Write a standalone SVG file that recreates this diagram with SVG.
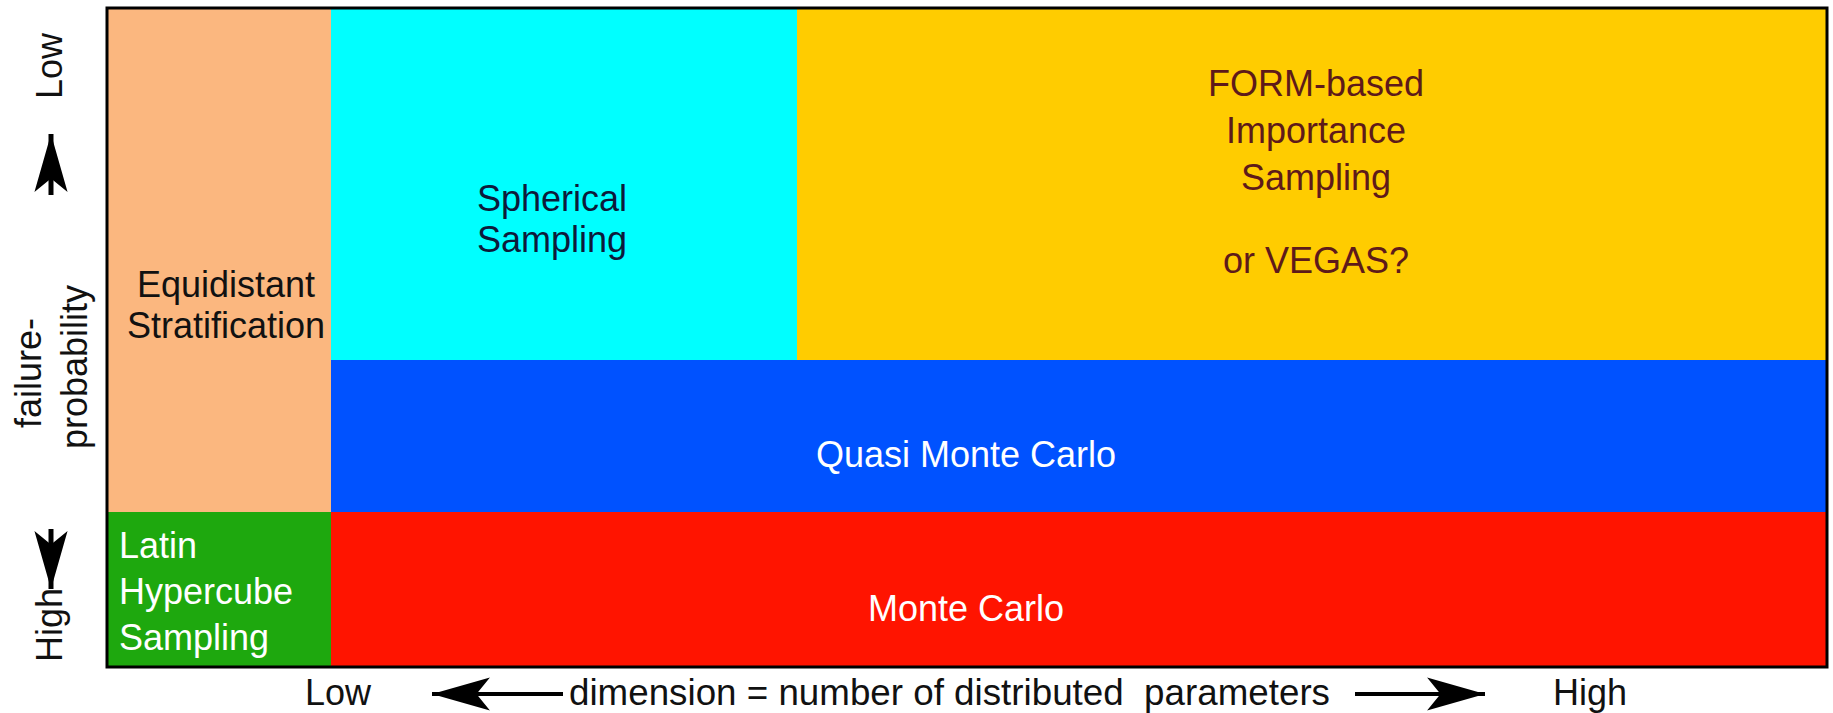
<svg xmlns="http://www.w3.org/2000/svg" width="1833" height="713" viewBox="0 0 1833 713">
  <style>
    text { font-family: "Liberation Sans", Arial, sans-serif; font-size: 36px; }
    .c { text-anchor: middle; }
    .dark { fill: #111111; }
    .white { fill: #ffffff; }
    .arrow { stroke: #000; stroke-width: 4; fill: none; }
    .arrowv { stroke: #000; stroke-width: 5; fill: none; }
  </style>
  <defs>
    <marker id="head" markerUnits="userSpaceOnUse" markerWidth="60" markerHeight="36" viewBox="-56 -17 58 34" refX="0" refY="0" orient="auto">
      <path d="M0,0 L-56,-16 L-43,0 L-56,16 Z" fill="#000"/>
    </marker>
  </defs>
  <rect x="0" y="0" width="1833" height="713" fill="#ffffff"/>

  <g id="equidistant">
    <rect x="107" y="8" width="224" height="504" fill="#FBB77F"/>
    <text class="c dark" x="226" y="297">Equidistant</text>
    <text class="c dark" x="226" y="338">Stratification</text>
  </g>
  <g id="spherical">
    <rect x="331" y="8" width="466" height="352" fill="#00FFFF"/>
    <text class="c" fill="#0d1a3a" x="552" y="211">Spherical</text>
    <text class="c" fill="#0d1a3a" x="552" y="252">Sampling</text>
  </g>
  <g id="form">
    <rect x="797" y="8" width="1030" height="352" fill="#FFCC00"/>
    <text class="c" fill="#5e1a1a" x="1316" y="96">FORM-based</text>
    <text class="c" fill="#5e1a1a" x="1316" y="143">Importance</text>
    <text class="c" fill="#5e1a1a" x="1316" y="190">Sampling</text>
    <text class="c" fill="#5e1a1a" x="1316" y="273">or VEGAS?</text>
  </g>
  <g id="quasi">
    <rect x="331" y="360" width="1496" height="152" fill="#0052FF"/>
    <text class="c white" x="966" y="467">Quasi Monte Carlo</text>
  </g>
  <g id="latin">
    <rect x="107" y="512" width="224" height="155" fill="#1EA80E"/>
    <text class="white" x="119" y="558">Latin</text>
    <text class="white" x="119" y="604">Hypercube</text>
    <text class="white" x="119" y="650">Sampling</text>
  </g>
  <g id="montecarlo">
    <rect x="331" y="512" width="1496" height="155" fill="#FF1400"/>
    <text class="c white" x="966" y="621">Monte Carlo</text>
  </g>
  <g id="frame">
    <rect x="107" y="8" width="1720" height="659" fill="none" stroke="#000" stroke-width="3"/>
  </g>

  <g id="axis-labels">
    <text class="c dark" transform="translate(62,66) rotate(-90)">Low</text>
    <text class="c dark" transform="translate(62,625) rotate(-90)">High</text>
    <text class="c dark" transform="translate(41,373) rotate(-90)">failure-</text>
    <text class="c dark" transform="translate(87,367) rotate(-90)">probability</text>
    <text class="dark" x="305" y="705">Low</text>
    <text class="dark" x="569" y="705" xml:space="preserve" textLength="761" lengthAdjust="spacingAndGlyphs">dimension = number of distributed  parameters</text>
    <text class="dark" x="1553" y="705">High</text>
  </g>

  <g id="connectors">
    <line class="arrowv" x1="51" y1="195" x2="51" y2="134" marker-end="url(#head)"/>
    <line class="arrowv" x1="51" y1="529" x2="51" y2="589" marker-end="url(#head)"/>
    <line class="arrow" x1="563" y1="694" x2="432" y2="694" marker-end="url(#head)"/>
    <line class="arrow" x1="1355" y1="694" x2="1485" y2="694" marker-end="url(#head)"/>
  </g>
</svg>
